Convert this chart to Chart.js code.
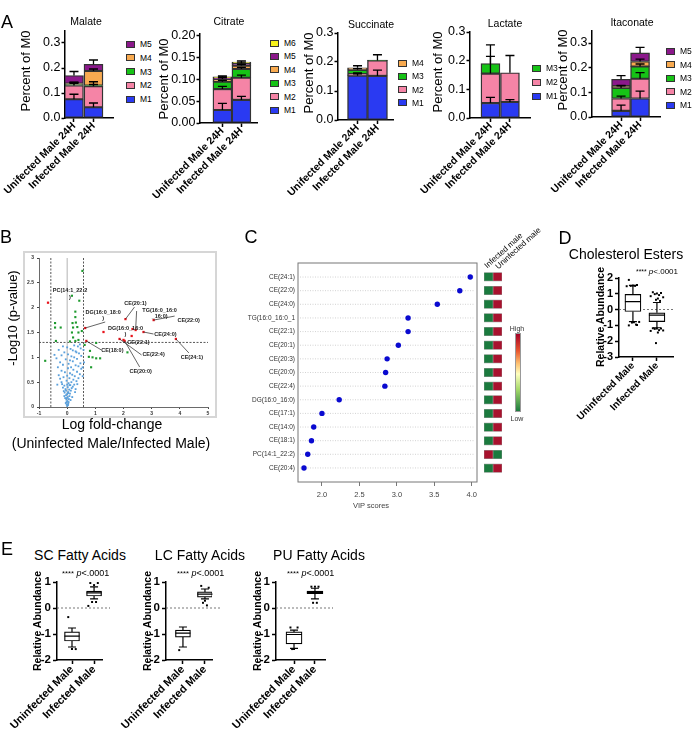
<!DOCTYPE html>
<html>
<head>
<meta charset="utf-8">
<title>Figure</title>
<script src="https://cdn.jsdelivr.net/npm/chart.js@4.4.1/dist/chart.umd.min.js"></script>
<style>
  body { margin: 0; width: 693px; height: 730px; position: relative; overflow: hidden; background: #fff;
         font-family: "Liberation Sans", Arial, sans-serif; }
  canvas { position: absolute; }
  .t { position: absolute; white-space: nowrap; line-height: 1; color: #000; }
  .sq { position: absolute; width: 7px; height: 5px; border: 1px solid #333; }
</style>
</head>
<body>
<script>
// ---------- Panel A : labelled fractions ----------
const groups = ['Unifected Male 24H', 'Infected Male 24H'];
const isoNames = ['M1', 'M2', 'M3', 'M4', 'M5', 'M6'];
const isoColors = ['#2a3af2', '#f584a6', '#16c316', '#f8aa50', '#8b188b', '#f6f21c'];

const malate = [[0.075, 0.043], [0.055, 0.084], [0.004, 0.003], [0.004, 0.058], [0.032, 0.027]];
const malateErr = [[0.02, 0.017], [0.012, 0.018], [0.005, 0.004], [0.005, 0.008], [0.016, 0.017]];
const citrate = [[0.03, 0.053], [0.048, 0.051], [0.017, 0.02], [0.006, 0.008], [0.003, 0.005], [0.002, 0.003]];
const citrateErr = [[0.015, 0.008], [0.006, 0.006], [0.003, 0.004], [0.003, 0.003], [0.002, 0.003], [0.002, 0.003]];
const succinate = [[0.153, 0.152], [0.005, 0.053], [0.015, 0.002], [0.007, 0]];
const succinateErr = [[0.006, 0.02], [0.004, 0.02], [0.004, 0], [0.007, 0]];
const lactate = [[0.052, 0.056], [0.103, 0.102], [0.035, 0]];
const lactateErr = [[0.02, 0.008], [0.06, 0.06], [0.065, 0]];
const itaconate = [[0.025, 0.075], [0.05, 0.08], [0.043, 0.05], [0.007, 0.02], [0.028, 0.035]];
const itaconateErr = [[0.023, 0.03], [0.01, 0.025], [0.008, 0.01], [0.003, 0.01], [0.015, 0.022]];

const ticks3 = ['0.0', '0.1', '0.2', '0.3'];
const citrateTicks = ['0.00', '0.05', '0.10', '0.15', '0.20'];

// ---------- Panel B : volcano ----------
const volcanoXTicks = ['-1', '0', '1', '2', '3', '4', '5'];
const volcanoYTicks = ['0', '0.5', '1', '1.5', '2', '2.5', '3'];
const fcCut = 0.58;
const pCut = 1.3;
const volcanoRed = [[-0.68, 2.10], [0.64, 1.59], [2.07, 1.77], [2.43, 1.55], [3.07, 1.75], [2.71, 1.51],
  [2.32, 1.57], [2.0, 1.35], [3.86, 1.37], [0.68, 1.33], [1.86, 1.37], [2.04, 1.33], [1.29, 1.51], [2.29, 1.43]];
const volcanoRedLabels = ['PC(14:1_22:2\n)', 'DG(16:0_18:0\n)', 'CE(20:1)', 'TG(16:0_16:0\n_16:0)', 'CE(22:0)',
  'CE(24:0)', 'DG(16:0_16:0\n)', 'CE(22:1)', 'CE(24:1)', 'CE(18:0)', 'CE(22:4)', 'CE(20:0)', '', ''];
const volcanoGreen = [[0.54, 2.74], [0.17, 2.24], [0.43, 2.14], [0.29, 1.92], [0.29, 1.81], [-0.43, 1.69],
  [-0.23, 1.6], [-0.43, 1.6], [0.19, 1.69], [0.31, 1.7], [0.21, 1.6], [0.36, 1.61], [0.52, 1.53], [0.17, 1.5],
  [0.4, 1.5], [-0.4, 1.33], [0.1, 1.32], [0.29, 1.33], [0.4, 1.35], [1.03, 1.29], [0.81, 1.13], [0.77, 1.01],
  [0.9, 1.0], [1.03, 0.98], [1.17, 0.98], [0.85, 0.8], [-0.78, 0.93], [2.14, 1.1], [0.62, 1.25], [0.21, 1.4]];
const volcanoBlue = [[0.0, 0.02], [-0.02, 0.05], [0.03, 0.04], [-0.05, 0.08], [0.05, 0.1], [0.01, 0.12],
  [-0.03, 0.15], [0.06, 0.16], [-0.07, 0.18], [0.02, 0.2], [0.08, 0.22], [-0.04, 0.24], [0.0, 0.26], [0.1, 0.27],
  [-0.09, 0.29], [0.04, 0.3], [-0.12, 0.32], [0.13, 0.33], [0.07, 0.35], [-0.06, 0.36], [0.16, 0.38],
  [-0.15, 0.39], [0.02, 0.4], [0.2, 0.41], [-0.1, 0.43], [0.11, 0.44], [0.25, 0.45], [-0.18, 0.46], [0.05, 0.48],
  [0.3, 0.36], [-0.2, 0.5], [0.15, 0.5], [0.33, 0.52], [-0.02, 0.53], [0.22, 0.55], [-0.25, 0.57], [0.08, 0.58],
  [0.4, 0.58], [-0.13, 0.6], [0.27, 0.62], [0.0, 0.63], [0.18, 0.65], [-0.3, 0.64], [0.45, 0.66], [0.1, 0.68],
  [-0.08, 0.7], [0.35, 0.71], [-0.2, 0.73], [0.22, 0.75], [0.5, 0.77], [0.03, 0.78], [-0.33, 0.8], [0.14, 0.8],
  [0.4, 0.82], [0.3, 0.84], [-0.15, 0.85], [0.05, 0.87], [0.47, 0.88], [-0.25, 0.9], [0.2, 0.92], [0.55, 0.8],
  [0.1, 0.94], [-0.05, 0.96], [0.35, 0.97], [-0.38, 0.98], [0.25, 1.0], [0.15, 1.02], [0.5, 1.03], [-0.2, 1.04],
  [0.03, 1.06], [0.42, 1.08], [-0.1, 1.1], [0.3, 1.12], [0.2, 1.14], [-0.3, 1.15], [0.12, 1.17], [0.48, 1.18],
  [0.0, 1.2], [0.38, 1.22], [0.25, 1.24], [-0.15, 1.22], [0.45, 1.26], [0.33, 1.1], [-0.02, 0.1], [0.04, 0.07],
  [-0.01, 0.18], [0.03, 0.28], [-0.04, 0.33], [0.12, 0.14], [0.08, 0.44], [0.28, 0.3], [0.18, 0.2], [-0.1, 0.22],
  [0.0, 0.45], [0.36, 0.46], [0.55, 0.62], [-0.35, 0.45], [0.6, 0.9], [-0.45, 1.05], [0.58, 1.15]];
// label placement next to each red point: text dx, dy, leader dx, dy (px)
const volcanoLabelLayout = [[22, -12, 0, 0], [18, -16, 20, -6], [10, -16, 9, -12], [24, -20, 1, -19],
  [35, 0, 21, -4], [22, 2, 10, 2], [-7, -1, 0, 0], [15, 3, 0, 0], [16, 19, 13, 14], [26, 10, 15, 9],
  [34, 16, 22, 16], [16, 31, 15, 26], [0, 0, 0, 0], [0, 0, 0, 0]];

// ---------- Panel C : VIP scores ----------
const vipLabels = ['CE(24:1)', 'CE(22:0)', 'CE(24:0)', 'TG(16:0_16:0_1', 'CE(22:1)', 'CE(20:1)', 'CE(20:3)',
  'CE(20:0)', 'CE(22:4)', 'DG(16:0_16:0)', 'CE(17:1)', 'CE(14:0)', 'CE(18:1)', 'PC(14:1_22:2)', 'CE(20:4)'];
const vipScores = [3.98, 3.84, 3.54, 3.15, 3.15, 3.02, 2.87, 2.85, 2.84, 2.23, 2.0, 1.89, 1.86, 1.81, 1.76];
const vipTicks = ['2.0', '2.5', '3.0', '3.5', '4.0'];
const heatInfected = [0, 0, 0, 0, 0, 0, 0, 0, 0, 0, 0, 0, 0, 1, 0];   // 1 = high
const heatUninfected = [1, 1, 1, 1, 1, 1, 1, 1, 1, 1, 1, 1, 1, 0, 1];

// ---------- Panels D / E : box plots [low whisker, q1, median, q3, high whisker] ----------
const boxGroups = ['Uninfected Male', 'Infected Male'];
const ceBox = [[-0.76, -0.12, 0.5, 0.96, 1.53], [-1.15, -0.76, -0.35, -0.2, 0.45]];
const ceOutU = [1.88, 1.55, 1.52, 1.5, 1.5, 1.48, -0.78, -0.8, -0.82, -0.95, -1.0, -0.98];
const ceOutI = [1.1, 1.05, 1.02, 0.98, 0.92, 0.85, 0.78, 0.7, 0.62, 0.55, -1.18, -1.2, -1.2, -1.22, -1.3,
  -1.35, -1.32, -1.45, -2.12];
const ceTicks = ['-3', '-2', '-1', '0', '1', '2'];
const scBox = [[-1.5, -1.27, -1.08, -0.92, -0.77], [0.35, 0.46, 0.58, 0.65, 0.81]];
const scOutU = [-0.35, -1.58, -1.58];
const scOutI = [0.96, 0.96, 0.88, 0.23, 0.23, 0.08];
const lcBox = [[-1.5, -1.12, -0.97, -0.85, -0.73], [0.35, 0.42, 0.53, 0.62, 0.73]];
const lcOutU = [-1.62];
const lcOutI = [0.85, 0.78, 0.28, 0.2, 0.1];
const puBox = [[-1.55, -1.38, -1.02, -0.92, -0.85], [0.35, 0.55, 0.6, 0.65, 0.76]];
const puOutU = [-0.75, -0.75, -1.58, -1.58];
const puOutI = [0.82, 0.82, 0.82, 0.2, 0.2];
const faTicks = ['-2', '-1', '0', '1'];
const jitter = [-0.17, 0.17, 0, -0.09, 0.09, -0.26, 0.26, 0.04, -0.04, 0.13];

// ---------- helpers ----------
Chart.defaults.font.family = '"Liberation Sans", Arial, sans-serif';
Chart.defaults.color = '#000';
Chart.defaults.animation = false;
Chart.defaults.plugins.legend.display = false;
Chart.defaults.plugins.tooltip.enabled = false;

function makeCanvas(x, y, w, h) {
  const c = document.createElement('canvas');
  c.width = w; c.height = h;
  c.style.left = x + 'px'; c.style.top = y + 'px';
  c.style.width = w + 'px'; c.style.height = h + 'px';
  document.body.appendChild(c);
  return c;
}
function txt(html, x, y, size, o = {}) {
  const d = document.createElement('div');
  d.className = 't';
  d.innerHTML = html;
  d.style.left = x + 'px'; d.style.top = y + 'px';
  d.style.fontSize = size + 'px';
  if (o.bold) d.style.fontWeight = 'bold';
  if (o.color) d.style.color = o.color;
  if (o.origin) {
    d.style.transformOrigin = '0 50%';
    d.style.transform = 'translate(0,-50%) rotate(' + o.rot + 'deg)';
  } else {
    const ax = o.left ? '0' : '-50%';
    d.style.transform = 'translate(' + ax + ',-50%)' + (o.rot ? ' rotate(' + o.rot + 'deg)' : '');
  }
  document.body.appendChild(d);
  return d;
}
function fitW(w) { return s => { s.width = w; s.paddingTop = s.paddingBottom = s.paddingLeft = s.paddingRight = 0; }; }
function fitH(h) { return s => { s.height = h; s.paddingTop = s.paddingBottom = s.paddingLeft = s.paddingRight = 0; }; }
function setTicks(list) { return s => { s.ticks = list.map(v => ({ value: parseFloat(v) })); }; }

// stacked bars with upward error bars
function isoChart(o) {
  const cx = o.left - 80, cw = o.right - cx + 4, ch = 210;
  const c = makeCanvas(cx, 0, cw, ch);
  const datasets = o.series.map((vals, k) => ({
    label: isoNames[k],
    data: vals.map((v, i) => ({ x: i, y: v })),
    backgroundColor: isoColors[k],
    borderColor: '#333', borderWidth: 1.4, borderSkipped: false,
    barThickness: o.barW || 19
  }));
  const errBars = {
    id: 'errBars',
    afterDatasetsDraw(chart) {
      const { ctx, scales: { x, y } } = chart;
      ctx.save(); ctx.strokeStyle = '#000'; ctx.lineWidth = 1.3;
      groups.forEach((g, i) => {
        let cum = 0;
        o.series.forEach((vals, k) => {
          cum += vals[i];
          const e = o.err[k][i];
          if (!e) return;
          const px = x.getPixelForValue(i), y0 = y.getPixelForValue(cum), y1 = y.getPixelForValue(cum + e);
          ctx.beginPath();
          ctx.moveTo(px, y0); ctx.lineTo(px, y1);
          ctx.moveTo(px - 4.5, y1); ctx.lineTo(px + 4.5, y1);
          ctx.stroke();
        });
      });
      ctx.restore();
    }
  };
  new Chart(c, {
    type: 'bar',
    data: { datasets },
    options: {
      responsive: false,
      layout: { autoPadding: false, padding: { left: 0, right: cx + cw - o.right, top: o.top, bottom: 0 } },
      scales: {
        x: {
          type: 'linear', stacked: true, min: o.xMin, max: o.xMax, offset: false,
          afterBuildTicks: s => { s.ticks = groups.map((g, i) => ({ value: i })); },
          ticks: { autoSkip: false, minRotation: 45, maxRotation: 45, callback: v => groups[v],
                   font: { size: 10.5, weight: 'bold' }, padding: -2 },
          grid: { offset: false, drawOnChartArea: false, tickLength: 4, tickColor: '#000', tickWidth: 1.5 },
          border: { color: '#000', width: 1.5 },
          afterFit: fitH(ch - o.bottom)
        },
        y: {
          stacked: true, min: 0, max: o.yMax,
          afterBuildTicks: setTicks(o.ticks),
          ticks: { autoSkip: false, callback: (v, i) => o.ticks[i], font: { size: 12.5 }, padding: 1 },
          grid: { drawOnChartArea: false, tickLength: 3.5, tickColor: '#000', tickWidth: 1.5 },
          border: { color: '#000', width: 1.5 },
          afterFit: fitW(o.left - cx)
        }
      }
    },
    plugins: [errBars]
  });
  // legend, top entry = last series
  const n = o.series.length;
  for (let j = 0; j < n; j++) {
    const k = n - 1 - j;
    const yy = o.legY + j * o.legStep;
    const sq = document.createElement('div');
    sq.className = 'sq';
    sq.style.left = o.legX + 'px'; sq.style.top = (yy - 3.5) + 'px';
    sq.style.background = isoColors[k];
    document.body.appendChild(sq);
    txt(isoNames[k], o.legX + 14, yy, 8.5, { left: true });
  }
  txt(o.title, o.titleX, o.titleY, 10.5);
  txt('Percent of M0', o.yTitleX, o.yTitleY, 13, { rot: -90 });
}

isoChart({ series: malate, err: malateErr, ticks: ticks3, left: 65, right: 113, top: 30.5, bottom: 118,
  yMax: 0.35, xMin: -0.46, xMax: 2.0, legX: 126, legY: 44, legStep: 13.75,
  title: 'Malate', titleX: 86, titleY: 21, yTitleX: 25, yTitleY: 71 });
isoChart({ series: citrate, err: citrateErr, ticks: citrateTicks, left: 200, right: 257, top: 33.8, bottom: 123,
  yMax: 0.205, xMin: -1.18, xMax: 1.82, legX: 270, legY: 43, legStep: 13.4,
  title: 'Citrate', titleX: 229, titleY: 21, yTitleX: 163, yTitleY: 79 });
isoChart({ series: succinate, err: succinateErr, ticks: ticks3, left: 338, right: 393, top: 33, bottom: 120,
  yMax: 0.3, xMin: -0.98, xMax: 1.78, barW: 20, legX: 398, legY: 63, legStep: 13.3,
  title: 'Succinate', titleX: 371, titleY: 24, yTitleX: 308, yTitleY: 73 });
isoChart({ series: lactate, err: lactateErr, ticks: ticks3, left: 470, right: 530, top: 32, bottom: 118,
  yMax: 0.3, xMin: -1.05, xMax: 2.03, legX: 532, legY: 68, legStep: 14,
  title: 'Lactate', titleX: 505, titleY: 23, yTitleX: 437, yTitleY: 72 });
isoChart({ series: itaconate, err: itaconateErr, ticks: ticks3, left: 592, right: 660, top: 30.7, bottom: 117,
  yMax: 0.35, xMin: -1.53, xMax: 2.05, legX: 666, legY: 51, legStep: 13.5,
  title: 'Itaconate', titleX: 632, titleY: 22, yTitleX: 562, yTitleY: 70 });

// ---------- Panel B ----------
(function () {
  const fr = document.createElement('div');
  Object.assign(fr.style, { position: 'absolute', left: '23px', top: '251px', width: '194px', height: '167px',
    border: '2px solid #d6d6d6', boxSizing: 'border-box' });
  document.body.appendChild(fr);
  const cx = 0, cy = 240, cw = 225, ch = 190;
  const c = makeCanvas(cx, cy, cw, ch);
  const pts = a => a.map(p => ({ x: p[0], y: p[1] }));
  const vLine = (data, dash, color) => ({ type: 'line', data, borderColor: color, borderWidth: 0.9,
    borderDash: dash, pointRadius: 0, fill: false, tension: 0 });
  const labels = {
    id: 'volLabels',
    afterDatasetsDraw(chart) {
      const { ctx, scales: { x, y } } = chart;
      ctx.save();
      ctx.font = 'bold 5.5px "Liberation Sans", Arial, sans-serif';
      ctx.fillStyle = '#222'; ctx.strokeStyle = '#222'; ctx.lineWidth = 0.7;
      ctx.textAlign = 'center'; ctx.textBaseline = 'middle';
      volcanoRed.forEach((p, i) => {
        const name = volcanoRedLabels[i];
        if (!name) return;
        const [tx, ty, lx, ly] = volcanoLabelLayout[i];
        const px = x.getPixelForValue(p[0]), py = y.getPixelForValue(p[1]);
        if (lx || ly) { ctx.beginPath(); ctx.moveTo(px, py); ctx.lineTo(px + lx, py + ly); ctx.stroke(); }
        name.split('\n').forEach((line, j) => ctx.fillText(line, px + tx, py + ty + j * 6.5));
      });
      ctx.restore();
    }
  };
  new Chart(c, {
    type: 'scatter',
    data: { datasets: [
      { data: pts(volcanoRed), backgroundColor: '#e8141c', pointStyle: 'rect', radius: 1.6, borderWidth: 0 },
      { data: pts(volcanoGreen), backgroundColor: '#1e9a2e', pointStyle: 'rect', radius: 1.5, borderWidth: 0 },
      { data: pts(volcanoBlue), backgroundColor: '#5aa0dc', pointStyle: 'rect', radius: 1.3, borderWidth: 0 },
      vLine([{ x: 0, y: 0 }, { x: 0, y: 3 }], [], '#aaaaaa'),
      vLine([{ x: -fcCut, y: 0 }, { x: -fcCut, y: 3 }], [2, 1.5], '#444'),
      vLine([{ x: fcCut, y: 0 }, { x: fcCut, y: 3 }], [2, 1.5], '#444'),
      vLine([{ x: -1, y: pCut }, { x: 5, y: pCut }], [2, 1.5], '#444')
    ] },
    options: {
      responsive: false,
      layout: { autoPadding: false, padding: { left: 0, right: cw - 208, top: 258 - cy, bottom: 0 } },
      scales: {
        x: { type: 'linear', min: -1, max: 5, afterBuildTicks: setTicks(volcanoXTicks),
             ticks: { callback: (v, i) => volcanoXTicks[i], font: { size: 5, weight: 'bold' }, color: '#333', padding: 2 },
             grid: { drawOnChartArea: false, tickLength: 2, tickColor: '#444' },
             border: { color: '#444', width: 0.8 }, afterFit: fitH(cy + ch - 407) },
        y: { min: 0, max: 3, afterBuildTicks: setTicks(volcanoYTicks),
             ticks: { autoSkip: false, callback: (v, i) => volcanoYTicks[i], font: { size: 5, weight: 'bold' }, color: '#333', padding: 3 },
             grid: { drawOnChartArea: false, tickLength: 2, tickColor: '#444' },
             border: { color: '#444', width: 0.8 }, afterFit: fitW(39) }
      }
    },
    plugins: [labels]
  });
  txt('-Log10 (p-value)', 12, 318, 13, { rot: -90 });
  txt('Log fold-change', 112, 424, 14);
  txt('(Uninfected Male/Infected Male)', 111, 443, 14);
})();

// ---------- Panel C ----------
(function () {
  const cx = 225, cy = 255, cw = 260, ch = 260;
  const c = makeCanvas(cx, cy, cw, ch);
  const deco = {
    id: 'vipDeco',
    beforeDatasetsDraw(chart) {
      const { ctx, chartArea: a, scales: { y } } = chart;
      ctx.save();
      ctx.strokeStyle = '#c8c8c8'; ctx.lineWidth = 0.8; ctx.setLineDash([1, 1.5]);
      vipLabels.forEach((l, i) => {
        const py = y.getPixelForValue(i);
        ctx.beginPath(); ctx.moveTo(a.left + 2, py); ctx.lineTo(a.right - 2, py); ctx.stroke();
      });
      ctx.setLineDash([]);
      ctx.strokeStyle = '#777'; ctx.lineWidth = 1;
      ctx.strokeRect(a.left, a.top, a.right - a.left, a.bottom - a.top);
      ctx.restore();
    }
  };
  new Chart(c, {
    type: 'scatter',
    data: { datasets: [{ data: vipScores.map((v, i) => ({ x: v, y: i })), backgroundColor: '#0a0ad0',
      radius: 2.7, borderWidth: 0 }] },
    options: {
      responsive: false,
      layout: { autoPadding: false, padding: { left: 0, right: cx + cw - 477, top: 263 - cy, bottom: 0 } },
      scales: {
        x: { type: 'linear', min: 1.68, max: 4.07, afterBuildTicks: setTicks(vipTicks),
             ticks: { callback: (v, i) => vipTicks[i], font: { size: 7.5 }, color: '#444', padding: 4 },
             grid: { drawOnChartArea: false, tickLength: 4, tickColor: '#777' },
             border: { display: false }, afterFit: fitH(cy + ch - 482) },
        y: { type: 'linear', reverse: true, min: -1.03, max: 15.03,
             afterBuildTicks: s => { s.ticks = vipLabels.map((l, i) => ({ value: i })); },
             ticks: { autoSkip: false, callback: (v, i) => vipLabels[i], font: { size: 6.5 }, color: '#333', padding: 3 },
             grid: { display: false, drawTicks: false }, border: { display: false }, afterFit: fitW(298 - cx) }
      }
    },
    plugins: [deco]
  });

  // heat map cells, same rows
  const hc = makeCanvas(480, 255, 30, 235);
  const cellColor = h => h ? '#a8122e' : '#1b7a3e';
  new Chart(hc, {
    type: 'bar',
    data: { labels: vipLabels, datasets: [
      { data: heatInfected.map(() => 1), backgroundColor: heatInfected.map(cellColor), borderColor: '#9a9a9a',
        borderWidth: 0.6, borderSkipped: false, barThickness: 8.5 },
      { data: heatUninfected.map(() => 1), backgroundColor: heatUninfected.map(cellColor), borderColor: '#9a9a9a',
        borderWidth: 0.6, borderSkipped: false, barThickness: 8.5 }
    ] },
    options: {
      responsive: false, indexAxis: 'y',
      layout: { autoPadding: false, padding: { left: 4, right: 8, top: 15, bottom: 15 } },
      scales: {
        x: { stacked: true, display: false, min: 0, max: 2 },
        y: { stacked: true, display: false }
      }
    }
  });
  txt('Infected male', 486, 267, 8, { rot: -42, origin: true });
  txt('Uninfected male', 497, 268, 8, { rot: -42, origin: true });
  const bar = document.createElement('div');
  Object.assign(bar.style, { position: 'absolute', left: '515px', top: '333px', width: '6px', height: '79px',
    border: '1px solid #999', boxSizing: 'border-box',
    background: 'linear-gradient(to bottom, #a50026 0%, #e8562f 22%, #fdbf6f 38%, #ffffbf 52%, #a6d96a 72%, #1b7a3e 100%)' });
  document.body.appendChild(bar);
  txt('High', 517, 328, 7, { color: '#333' });
  txt('Low', 517, 418, 7, { color: '#333' });
  txt('VIP scores', 371, 506, 7.5, { color: '#444' });
})();

// ---------- Panels D / E : box plots ----------
function boxChart(o) {
  const c = makeCanvas(o.cx, o.cy, o.cw, o.ch);
  const outPts = [];
  [o.outU, o.outI].forEach((arr, g) => arr.forEach((v, j) => outPts.push({ x: g + jitter[j % jitter.length], y: v })));
  const boxDeco = {
    id: 'boxDeco',
    beforeDatasetsDraw(chart) {
      const { ctx, chartArea: a, scales: { y } } = chart;
      const y0 = y.getPixelForValue(0);
      ctx.save(); ctx.strokeStyle = '#555'; ctx.lineWidth = 0.8; ctx.setLineDash([2, 2]);
      ctx.beginPath(); ctx.moveTo(a.left, y0); ctx.lineTo(a.right + o.ext, y0); ctx.stroke();
      ctx.restore();
    },
    afterDatasetsDraw(chart) {
      const { ctx, scales: { x, y } } = chart;
      const hw = o.boxW / 2;
      ctx.save(); ctx.strokeStyle = '#000'; ctx.lineWidth = 1.2;
      o.boxes.forEach((b, i) => {
        const px = x.getPixelForValue(i);
        const [lo, q1, med, q3, hi] = b.map(v => y.getPixelForValue(v));
        ctx.beginPath();
        ctx.moveTo(px, q3); ctx.lineTo(px, hi); ctx.moveTo(px - 4, hi); ctx.lineTo(px + 4, hi);
        ctx.moveTo(px, q1); ctx.lineTo(px, lo); ctx.moveTo(px - 4, lo); ctx.lineTo(px + 4, lo);
        ctx.moveTo(px - hw, med); ctx.lineTo(px + hw, med);
        ctx.stroke();
      });
      ctx.restore();
    }
  };
  new Chart(c, {
    type: 'bar',
    data: { datasets: [
      { type: 'scatter', data: outPts, pointStyle: 'rect', radius: 1.4, backgroundColor: '#000', borderWidth: 0 },
      { data: o.boxes.map((b, i) => ({ x: i, y: [b[1], b[3]] })), backgroundColor: '#fff', borderColor: '#000',
        borderWidth: 1.2, borderSkipped: false, barThickness: o.boxW }
    ] },
    options: {
      responsive: false,
      layout: { autoPadding: false, padding: { left: 0, right: o.cx + o.cw - o.right, top: o.top - o.cy, bottom: 0 } },
      scales: {
        x: { type: 'linear', min: o.xMin, max: o.xMax, offset: false,
             afterBuildTicks: s => { s.ticks = boxGroups.map((g, i) => ({ value: i })); },
             ticks: { autoSkip: false, minRotation: 45, maxRotation: 45, callback: v => boxGroups[v],
                      font: { size: o.xFont, weight: 'bold' }, padding: -1 },
             grid: { offset: false, drawOnChartArea: false, tickLength: 4, tickColor: '#000', tickWidth: 1.5 },
             border: { color: '#000', width: 1.5 }, afterFit: fitH(o.cy + o.ch - o.bottom) },
        y: { min: o.yMin, max: o.yMax, afterBuildTicks: setTicks(o.ticks),
             ticks: { autoSkip: false, callback: (v, i) => o.ticks[i], font: { size: o.yFont, weight: 'bold' }, padding: 2 },
             grid: { drawOnChartArea: false, tickLength: 4, tickColor: '#000', tickWidth: 1.5 },
             border: { color: '#000', width: 1.5 }, afterFit: fitW(o.left - o.cx) }
      }
    },
    plugins: [boxDeco]
  });
  txt(o.title, o.titleX, o.titleY, 14);
  txt('Relative Abundance', o.yTitleX, o.yTitleY, 10.5, { bold: true, rot: -90 });
  txt('<span style="font-size:0.85em">****</span> <i>p</i>&lt;.0001', o.pX, o.pY, o.pFont, { left: true });
}

boxChart({ cx: 545, cy: 265, cw: 140, ch: 165, left: 619, right: 673, top: 278, bottom: 357,
  yMin: -3, yMax: 2, ticks: ceTicks, xMin: -0.58, xMax: 1.67, boxes: ceBox, outU: ceOutU, outI: ceOutI,
  boxW: 16, ext: 0, xFont: 10, yFont: 11, title: 'Cholesterol Esters', titleX: 626, titleY: 254,
  yTitleX: 600, yTitleY: 317, pX: 636, pY: 272, pFont: 8 });
boxChart({ cx: 0, cy: 570, cw: 120, ch: 160, left: 57, right: 102, top: 582, bottom: 660,
  yMin: -2, yMax: 1, ticks: faTicks, xMin: -0.68, xMax: 1.36, boxes: scBox, outU: scOutU, outI: scOutI,
  boxW: 15, ext: 8, xFont: 11, yFont: 11.5, title: 'SC Fatty Acids', titleX: 80, titleY: 555,
  yTitleX: 37, yTitleY: 621, pX: 62, pY: 573, pFont: 9 });
boxChart({ cx: 110, cy: 570, cw: 120, ch: 160, left: 166, right: 212, top: 582, bottom: 660,
  yMin: -2, yMax: 1, ticks: faTicks, xMin: -0.77, xMax: 1.32, boxes: lcBox, outU: lcOutU, outI: lcOutI,
  boxW: 15, ext: 10, xFont: 11, yFont: 11.5, title: 'LC Fatty Acids', titleX: 200, titleY: 555,
  yTitleX: 147, yTitleY: 621, pX: 177, pY: 573, pFont: 9 });
boxChart({ cx: 220, cy: 570, cw: 125, ch: 160, left: 276, right: 325, top: 582, bottom: 660,
  yMin: -2, yMax: 1, ticks: faTicks, xMin: -0.86, xMax: 1.48, boxes: puBox, outU: puOutU, outI: puOutI,
  boxW: 16, ext: 8, xFont: 11, yFont: 11.5, title: 'PU Fatty Acids', titleX: 319, titleY: 555,
  yTitleX: 257, yTitleY: 621, pX: 287, pY: 573, pFont: 9 });

// panel letters
txt('A', 7, 21.5, 18);
txt('B', 6, 236.5, 18);
txt('C', 251, 237, 18);
txt('D', 565, 237.5, 18);
txt('E', 7, 549, 18);
</script>
</body>
</html>
